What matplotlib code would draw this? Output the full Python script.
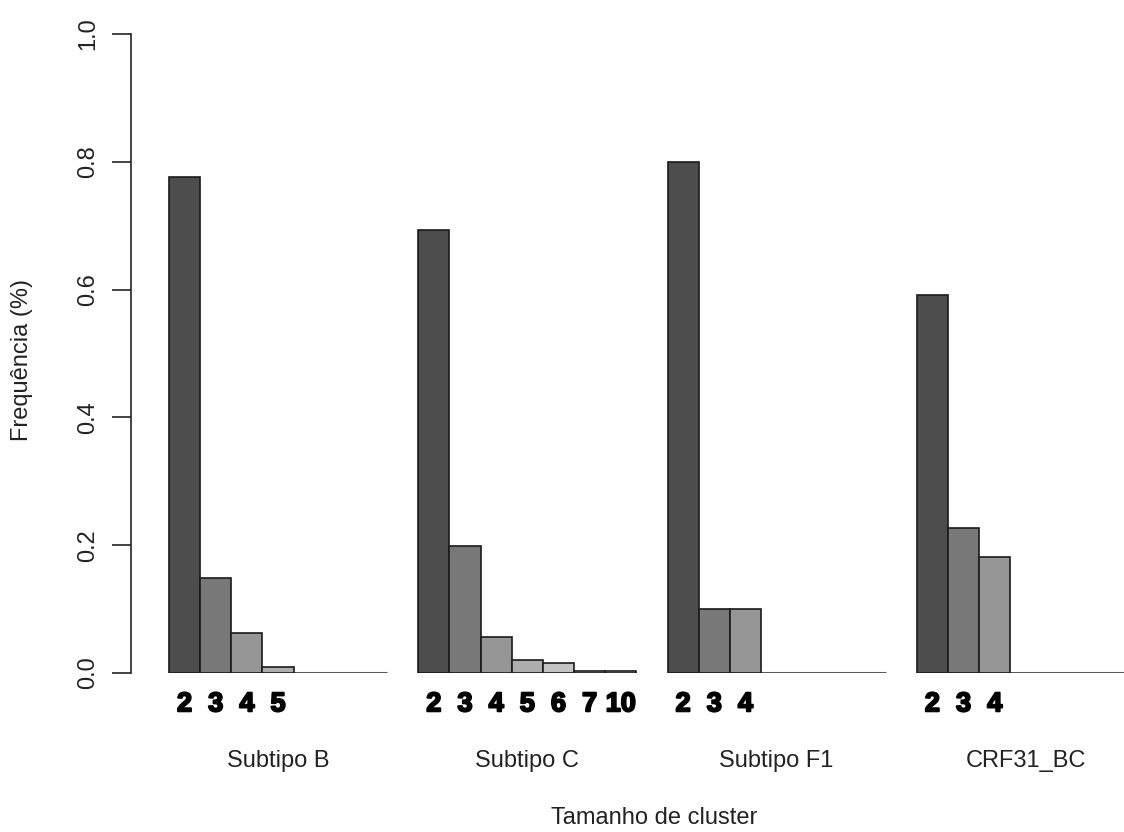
import matplotlib
matplotlib.use("Agg")
import matplotlib.pyplot as plt
import matplotlib.patheffects as pe

# ---- data ----
groups = ["Subtipo B", "Subtipo C", "Subtipo F1", "CRF31_BC"]
sizes_B = ["2", "3", "4", "5"]
freq_B = [0.776, 0.149, 0.063, 0.009]
sizes_C = ["2", "3", "4", "5", "6", "7", "10"]
freq_C = [0.694, 0.199, 0.056, 0.020, 0.016, 0.003, 0.003]
sizes_F1 = ["2", "3", "4"]
freq_F1 = [0.800, 0.100, 0.100]
sizes_CRF = ["2", "3", "4"]
freq_CRF = [0.591, 0.227, 0.182]
yticks = [0.0, 0.2, 0.4, 0.6, 0.8, 1.0]

all_sizes = [sizes_B, sizes_C, sizes_F1, sizes_CRF]
all_freqs = [freq_B, freq_C, freq_F1, freq_CRF]

# gray.colors(7) palette
shades = ["#4D4D4D", "#787878", "#969696", "#AEAEAE", "#C3C3C3", "#D5D5D5", "#E6E6E6"]

plt.rcParams['font.family'] = ['Liberation Sans', 'DejaVu Sans']

W, H = 1124, 832
fig = plt.figure(figsize=(W / 100, H / 100), dpi=100)
left_px, top_px, bot_px = 131, 34, 673
ax = fig.add_axes([left_px / W, (H - bot_px) / H, (W - left_px) / W, (bot_px - top_px) / H])

slot_px = 31.16
first_bar_px = 169
x0 = -(first_bar_px - left_px) / slot_px
x1 = x0 + (W - left_px) / slot_px
ax.set_xlim(x0, x1)
ax.set_ylim(0, 1.0)

nslots = 7
group_step = 8
for g, (name, sizes, freqs) in enumerate(zip(groups, all_sizes, all_freqs)):
    start = g * group_step
    lefts = [start + i for i in range(len(freqs))]
    ax.bar(lefts, freqs, width=1.0, align='edge', color=shades[:len(freqs)],
           edgecolor='#1a1a1a', linewidth=1.2, zorder=3)
    ax.plot([start, start + nslots], [0, 0], color='#5a5a5a', lw=2.2,
            solid_capstyle='butt', zorder=2, clip_on=True)
    for xl, s in zip(lefts, sizes):
        ax.text(xl + 0.5, -0.049, s, ha='center', va='center', fontsize=19.5,
                fontweight='bold', color='black', clip_on=False,
                path_effects=[pe.withStroke(linewidth=1.4, foreground='black')])
    ax.text(start + nslots / 2, -0.137, name, ha='center', va='center',
            fontsize=17, color='#222222', clip_on=False)

ax.set_xticks([])
for sp in ['top', 'right', 'bottom']:
    ax.spines[sp].set_visible(False)
ax.spines['left'].set_bounds(0, 1.0)
ax.spines['left'].set_color('#222222')
ax.spines['left'].set_linewidth(1.2)
ax.set_yticks(yticks)
ax.set_yticklabels([f"{v:.1f}" for v in yticks], rotation=90, va='center',
                   fontsize=17, color='#222222')
ax.tick_params(axis='y', length=14, width=1.2, color='#222222', pad=9)

fig.text(22 / W, 1 - 360 / H, "Frequência (%)", rotation=90, ha='center', va='center',
         fontsize=17, color='#222222')
fig.text(654 / W, 1 - 818 / H, "Tamanho de cluster", ha='center', va='center',
         fontsize=17, color='#222222')

fig.savefig("out.png", dpi=100, facecolor='white')
